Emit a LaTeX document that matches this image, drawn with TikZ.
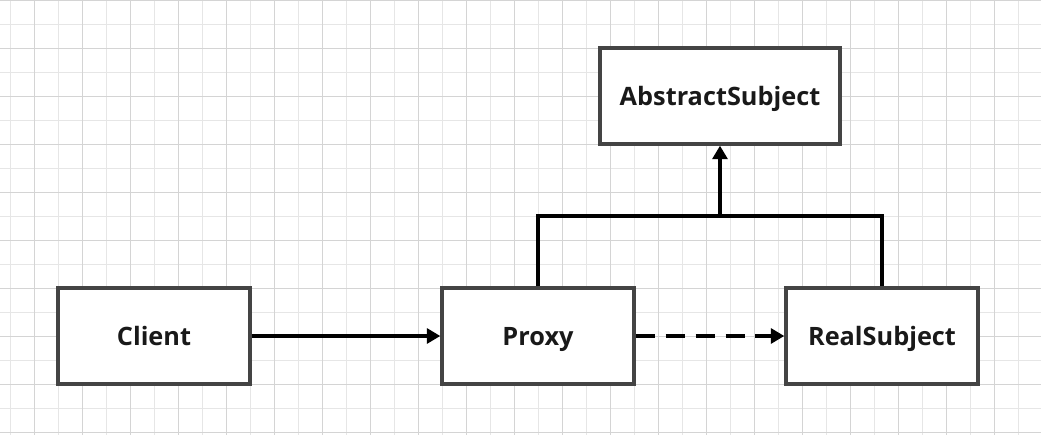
\documentclass[tikz,border=0pt]{standalone}
\usepackage{fontspec}
\setmainfont{Open Sans}
\usepackage{tikz}
\usetikzlibrary{arrows.meta, positioning, backgrounds}
\definecolor{boxgray}{HTML}{444444}
\definecolor{gridlight}{HTML}{E6E6E6}
\definecolor{griddark}{HTML}{D4D4D4}

\begin{document}
\begin{tikzpicture}[
        box/.style={draw=boxgray, line width=2.4pt, fill=#1, minimum width=4.8cm,
                    minimum height=2.4cm, font=\fontsize{18}{21}\selectfont\bfseries,
                    text=black!90, align=center, text height=15pt, text depth=2pt},
        box/.default=white,
        conn/.style={line width=2.6pt, black},
        arrowed/.style={-{Triangle[length=9.5pt,width=10.5pt]}}
    ]
        \useasboundingbox (0,0) rectangle (26.025,-10.875);
        % grid paper
        \fill[white] (0,0) rectangle (26.025,-10.875);
        \foreach \x in {0.25,0.85,...,25.9} \draw[gridlight, line width=0.7pt] (\x,0) -- (\x,-10.875);
        \foreach \y in {0.6,1.2,...,10.8} \draw[gridlight, line width=0.7pt] (0,-\y) -- (26.025,-\y);
        \foreach \x in {0.85,2.05,...,25.9} \draw[griddark, line width=0.7pt] (\x,0) -- (\x,-10.875);
        \foreach \y in {0,1.2,...,10.8} \draw[griddark, line width=0.7pt] (0,-\y) -- (26.025,-\y);

        \node[box] (client) at (3.85,-8.4)  {Client};
        \node[box] (proxy)  at (13.45,-8.4) {Proxy};
        \node[box] (real)   at (22.05,-8.4) {RealSubject};
        \node[box, minimum width=6cm] (abs) at (18,-2.4) {AbstractSubject};
        \coordinate (junc) at (18,-5.4);

        \draw[conn, arrowed] (client) -- (proxy);
        \draw[conn, arrowed, dash pattern=on 13.5pt off 7.8pt] (proxy) -- (real);
        \draw[conn] (proxy.north) |- (junc) -| (real.north);
        \draw[conn, arrowed] (junc) -- (abs.south);
    \end{tikzpicture}
\end{document}
